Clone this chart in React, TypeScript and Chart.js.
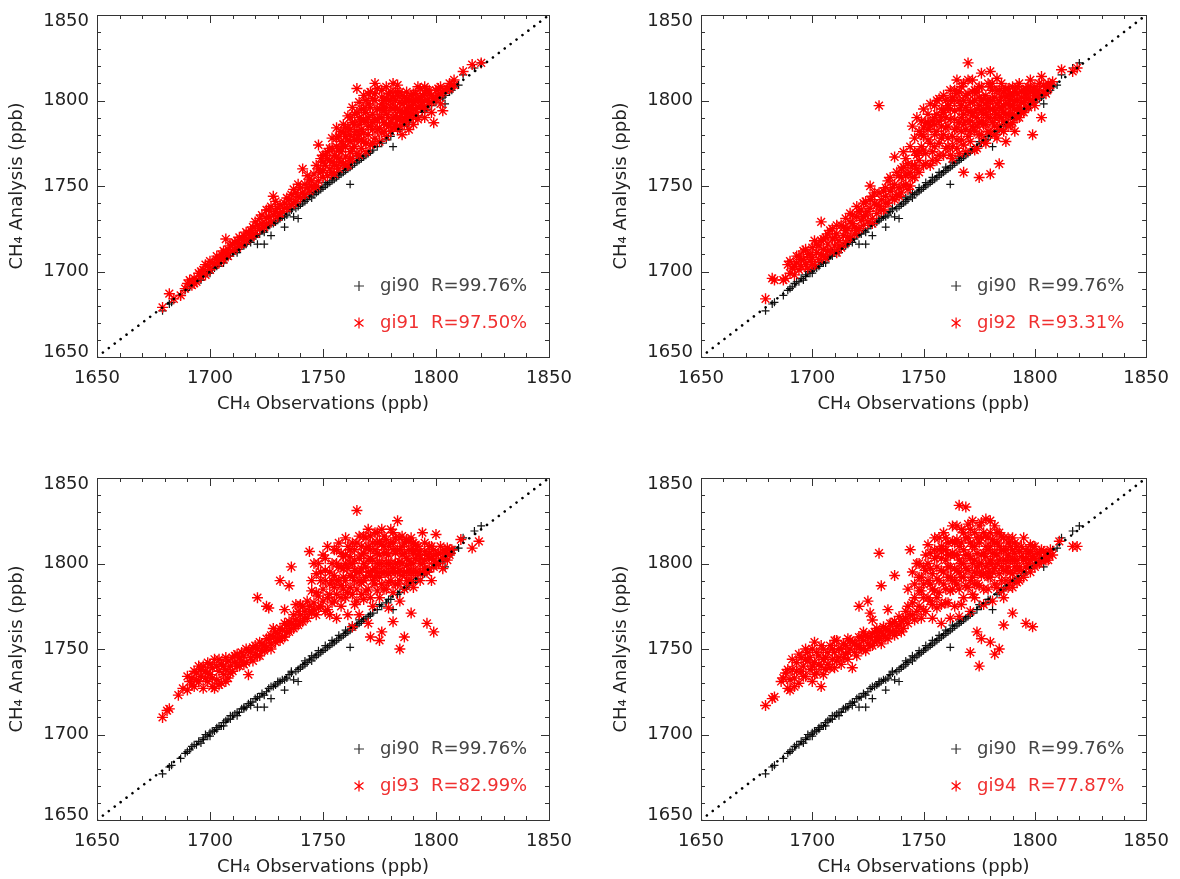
import React, { useEffect, useRef } from "react";
import { Chart, registerables } from "chart.js";
Chart.register(...registerables);

const AXIS_RANGE = [1650, 1850];
const MAJOR_TICKS = [1650, 1700, 1750, 1800, 1850];
const MINOR_STEP = 10;
const X_TITLE = "CH₄ Observations (ppb)";
const Y_TITLE = "CH₄ Analysis (ppb)";
const REF_NAME = "gi90";
const REF_R = "R=99.76%";
const EXP_NAMES = ["gi91", "gi92", "gi93", "gi94"];
const EXP_R = ["R=97.50%", "R=93.31%", "R=82.99%", "R=77.87%"];

// [observation, analysis] pairs, ppb
const gi90: number[][] = [
  [1679,1677],[1682,1681],[1683,1682],[1687,1686],[1689,1689],[1691,1691],[1692,1693],[1694,1694],[1695,1696],[1696,1695],
  [1697,1698],[1698,1700],[1699,1699],[1700,1701],[1701,1702],[1702,1702],[1703,1704],[1704,1705],[1705,1705],[1706,1707],
  [1707,1708],[1708,1709],[1709,1709],[1710,1711],[1711,1712],[1712,1713],[1713,1713],[1714,1715],[1715,1716],[1716,1716],
  [1717,1718],[1718,1719],[1719,1719],[1720,1721],[1721,1716],[1722,1722],[1723,1724],[1724,1716],[1725,1725],[1726,1727],
  [1727,1721],[1728,1728],[1729,1729],[1730,1730],[1731,1731],[1732,1732],[1733,1726],[1734,1733],[1735,1735],[1736,1736],
  [1737,1732],[1738,1737],[1739,1731],[1740,1739],[1741,1740],[1742,1741],[1743,1742],[1744,1744],[1745,1743],[1746,1745],
  [1747,1746],[1748,1747],[1749,1748],[1750,1749],[1751,1750],[1752,1751],[1753,1752],[1754,1753],[1755,1754],[1756,1755],
  [1757,1756],[1758,1757],[1759,1758],[1760,1759],[1761,1760],[1762,1751],[1762,1761],[1763,1762],[1764,1763],[1765,1764],
  [1766,1765],[1767,1766],[1768,1767],[1769,1768],[1770,1769],[1772,1771],[1774,1773],[1776,1775],[1778,1777],[1780,1779],
  [1781,1773],[1784,1783],[1786,1785],[1788,1787],[1790,1789],[1792,1791],[1794,1793],[1796,1795],[1798,1797],[1800,1799],
  [1802,1801],[1804,1798],[1804,1803],[1806,1805],[1808,1808],[1810,1809],[1812,1815],[1817,1819],[1820,1822],
  [1690,1690],[1693,1694],[1697,1697],[1700,1699],[1703,1703],[1706,1705],[1709,1711],[1712,1711],[1715,1715],[1718,1717],
  [1721,1722],[1724,1723],[1727,1728],[1730,1731],[1733,1732],[1736,1737],[1739,1738],[1742,1743],[1745,1746],[1748,1749],
  [1751,1752],[1754,1755],[1757,1758],[1760,1761],[1763,1764],[1766,1767],[1771,1770],[1775,1776],[1779,1779],[1783,1782],
  [1787,1786],[1791,1790],[1795,1794],[1799,1800],[1803,1802],[1807,1806]
];

const gi91: number[][] = [
  [1679,1679],[1682,1687],[1684,1684],[1687,1686],[1689,1690],[1690,1693],[1692,1692],[1693,1696],[1694,1694],[1695,1699],
  [1696,1697],[1697,1701],[1698,1698],[1699,1703],[1700,1701],[1700,1706],[1702,1704],[1703,1707],[1704,1705],[1705,1710],
  [1706,1707],[1707,1719],[1707,1711],[1708,1709],[1709,1715],[1710,1712],[1711,1717],[1712,1714],[1713,1720],[1714,1716],
  [1715,1719],[1716,1718],[1717,1722],[1718,1720],[1719,1726],[1720,1722],[1720,1729],[1722,1725],[1723,1728],[1724,1726],
  [1725,1736],[1725,1731],[1726,1736],[1727,1729],[1728,1744],[1728,1733],[1730,1732],[1730,1737],[1732,1735],[1733,1740],
  [1734,1737],[1735,1742],[1736,1739],[1737,1748],[1738,1741],[1739,1744],[1740,1743],[1740,1749],[1741,1760],[1742,1745],
  [1742,1751],[1744,1747],[1744,1754],[1745,1750],[1746,1757],[1747,1750],[1747,1762],[1748,1774],[1748,1753],[1749,1758],
  [1750,1755],[1750,1764],[1751,1768],[1752,1756],[1753,1760],[1753,1772],[1754,1764],[1755,1757],[1755,1768],[1756,1784],
  [1756,1762],[1756,1773],[1757,1760],[1757,1766],[1757,1779],[1758,1770],[1758,1776],[1759,1763],[1759,1786],[1760,1767],
  [1760,1773],[1760,1779],[1761,1762],[1761,1791],[1762,1770],[1762,1776],[1762,1783],[1763,1766],[1763,1796],[1764,1773],
  [1764,1780],[1764,1786],[1765,1807],[1765,1769],[1765,1777],[1766,1790],[1766,1799],[1767,1772],[1767,1783],[1768,1776],
  [1768,1795],[1768,1803],[1769,1770],[1769,1788],[1770,1780],[1770,1798],[1771,1785],[1771,1805],[1772,1775],[1772,1792],
  [1773,1810],[1773,1800],[1774,1783],[1774,1789],[1775,1776],[1775,1795],[1776,1806],[1776,1781],[1777,1787],[1777,1800],
  [1778,1779],[1778,1792],[1778,1808],[1779,1785],[1779,1804],[1780,1796],[1780,1782],[1781,1810],[1781,1790],[1782,1786],
  [1782,1800],[1783,1784],[1783,1795],[1783,1809],[1784,1790],[1784,1805],[1785,1788],[1785,1798],[1786,1793],[1786,1786],
  [1787,1801],[1788,1790],[1788,1796],[1789,1803],[1790,1792],[1790,1799],[1791,1795],[1792,1808],[1792,1801],[1793,1797],
  [1793,1807],[1794,1795],[1794,1803],[1795,1800],[1796,1806],[1797,1799],[1798,1803],[1799,1801],[1799,1787],[1800,1806],
  [1801,1803],[1802,1808],[1803,1805],[1803,1794],[1805,1807],[1806,1810],[1807,1809],[1808,1812],[1812,1817],[1816,1821],
  [1820,1822],
  [1691,1695],[1693,1693],[1696,1700],[1698,1704],[1701,1705],[1703,1709],[1705,1708],[1706,1712],[1708,1713],[1710,1716],
  [1712,1718],[1713,1716],[1715,1721],[1716,1723],[1718,1724],[1719,1722],[1721,1727],[1722,1731],[1723,1733],[1725,1728],
  [1726,1732],[1727,1738],[1729,1735],[1729,1741],[1731,1739],[1731,1734],[1733,1737],[1734,1743],[1736,1745],[1737,1740],
  [1738,1746],[1739,1751],[1741,1746],[1743,1749],[1743,1756],[1745,1753],[1746,1749],[1748,1760],[1749,1766],[1750,1759],
  [1751,1762],[1752,1770],[1753,1765],[1754,1758],[1754,1778],[1755,1762],[1756,1767],[1757,1771],[1758,1764],[1758,1782],
  [1759,1774],[1760,1762],[1761,1777],[1761,1784],[1762,1766],[1762,1790],[1763,1772],[1763,1787],[1764,1777],[1765,1782],
  [1765,1793],[1766,1768],[1766,1786],[1767,1777],[1767,1795],[1768,1781],[1768,1789],[1769,1793],[1769,1775],[1770,1785],
  [1770,1804],[1771,1774],[1771,1796],[1772,1783],[1772,1801],[1773,1789],[1773,1778],[1774,1795],[1774,1807],[1775,1784],
  [1776,1790],[1776,1798],[1777,1782],[1777,1794],[1778,1786],[1778,1801],[1779,1790],[1780,1787],[1780,1805],[1781,1784],
  [1781,1795],[1782,1791],[1782,1805],[1783,1789],[1784,1785],[1784,1799],[1785,1793],[1785,1803],[1786,1790],[1786,1799],
  [1787,1788],[1787,1795],[1788,1800],[1789,1792],[1789,1797],[1790,1795],[1790,1804],[1791,1791],[1791,1800],[1792,1796],
  [1793,1802],[1794,1799],[1795,1796],[1795,1804],[1796,1800],[1797,1804],[1798,1799],[1800,1802],[1801,1807],[1802,1804],
  [1804,1806],[1806,1807],[1808,1809],
  [1758,1772],[1760,1784],[1762,1780],[1764,1792],[1766,1780],[1767,1788],[1769,1800],[1770,1790],[1772,1787],[1773,1804],
  [1775,1790],[1776,1802],[1777,1796],[1778,1796],[1779,1800],[1780,1800],[1781,1802],[1782,1796],[1783,1803],[1784,1794],
  [1786,1802],[1787,1805],[1788,1793],[1789,1800],[1791,1804],[1793,1800],[1795,1808],[1797,1806],[1785,1780],[1790,1786],
  [1795,1790],[1798,1793],[1802,1798],[1788,1783],[1792,1789],[1756,1778],[1759,1781],[1754,1772],[1752,1766],[1750,1768]
];

const gi92: number[][] = [
  [1679,1684],[1682,1696],[1683,1695],[1687,1695],[1688,1696],[1689,1704],[1690,1699],[1691,1702],[1692,1698],[1693,1705],
  [1694,1701],[1694,1709],[1695,1703],[1696,1707],[1696,1712],[1697,1704],[1698,1710],[1698,1702],[1699,1706],[1700,1714],
  [1700,1708],[1701,1704],[1701,1718],[1702,1711],[1703,1707],[1703,1715],[1704,1729],[1704,1710],[1705,1719],[1705,1713],
  [1706,1708],[1707,1716],[1707,1722],[1708,1712],[1709,1719],[1709,1725],[1710,1715],[1711,1722],[1711,1711],[1712,1718],
  [1713,1727],[1713,1714],[1714,1721],[1715,1731],[1715,1717],[1716,1725],[1717,1734],[1717,1720],[1718,1728],[1719,1722],
  [1720,1732],[1720,1738],[1721,1725],[1722,1730],[1722,1736],[1723,1727],[1724,1741],[1724,1733],[1725,1729],[1726,1750],
  [1726,1737],[1727,1731],[1727,1744],[1728,1740],[1729,1734],[1730,1797],[1730,1746],[1730,1738],[1731,1742],[1732,1736],
  [1733,1749],[1733,1744],[1734,1740],[1735,1755],[1735,1747],[1736,1743],[1737,1767],[1737,1751],[1738,1745],[1738,1758],
  [1739,1749],[1740,1755],[1740,1746],[1741,1761],[1742,1751],[1742,1766],[1743,1757],[1744,1750],[1744,1773],[1745,1762],
  [1745,1785],[1746,1755],[1746,1778],[1747,1768],[1748,1758],[1748,1782],[1749,1773],[1749,1788],[1750,1762],[1750,1779],
  [1751,1787],[1751,1769],[1752,1783],[1752,1792],[1753,1762],[1753,1775],[1754,1788],[1754,1770],[1755,1797],[1755,1780],
  [1756,1765],[1756,1792],[1757,1801],[1757,1775],[1758,1785],[1758,1795],[1759,1768],[1759,1780],[1760,1790],[1760,1800],
  [1761,1773],[1761,1785],[1762,1795],[1762,1806],[1763,1766],[1763,1779],[1764,1789],[1764,1800],[1765,1812],[1765,1772],
  [1765,1784],[1766,1795],[1766,1805],[1767,1777],[1767,1790],[1768,1758],[1768,1800],[1768,1810],[1769,1770],[1769,1783],
  [1770,1822],[1770,1794],[1770,1804],[1771,1776],[1771,1788],[1772,1799],[1772,1812],[1773,1782],[1773,1793],[1774,1805],
  [1774,1772],[1775,1755],[1775,1787],[1775,1797],[1776,1816],[1776,1780],[1776,1808],[1777,1792],[1777,1801],[1778,1775],
  [1778,1786],[1779,1796],[1779,1810],[1780,1817],[1780,1781],[1780,1790],[1780,1757],[1781,1800],[1781,1806],[1782,1785],
  [1782,1794],[1783,1813],[1783,1778],[1784,1763],[1784,1790],[1784,1800],[1785,1783],[1785,1795],[1786,1805],[1786,1788],
  [1787,1798],[1787,1776],[1788,1792],[1788,1803],[1789,1786],[1789,1797],[1790,1808],[1790,1792],[1791,1782],[1791,1800],
  [1792,1795],[1792,1804],[1793,1810],[1793,1790],[1794,1799],[1795,1793],[1795,1806],[1796,1802],[1797,1796],[1797,1808],
  [1798,1812],[1798,1800],[1799,1780],[1799,1805],[1800,1797],[1800,1808],[1801,1802],[1802,1810],[1803,1790],[1803,1814],
  [1804,1805],[1805,1808],[1806,1810],[1807,1809],[1808,1811],[1812,1818],[1817,1817],[1819,1819],
  [1690,1706],[1692,1703],[1693,1709],[1695,1707],[1697,1713],[1699,1710],[1700,1704],[1702,1716],[1704,1718],[1705,1709],
  [1706,1720],[1707,1712],[1708,1724],[1710,1720],[1711,1727],[1712,1715],[1714,1726],[1715,1724],[1716,1720],[1717,1729],
  [1718,1733],[1719,1726],[1720,1724],[1721,1735],[1723,1732],[1723,1740],[1725,1735],[1726,1742],[1727,1728],[1728,1746],
  [1729,1739],[1731,1736],[1732,1747],[1733,1740],[1734,1753],[1736,1749],[1737,1742],[1739,1756],[1739,1744],[1741,1750],
  [1741,1770],[1743,1763],[1743,1748],[1745,1755],[1746,1770],[1747,1760],[1747,1790],[1748,1765],[1749,1780],[1750,1771],
  [1750,1795],[1751,1763],[1752,1777],[1753,1785],[1753,1798],[1754,1765],[1755,1773],[1755,1790],[1756,1782],[1756,1800],
  [1757,1768],[1757,1788],[1758,1778],[1759,1793],[1759,1803],[1760,1772],[1760,1784],[1761,1797],[1761,1778],[1762,1768],
  [1762,1789],[1763,1802],[1763,1773],[1764,1783],[1764,1794],[1765,1777],[1765,1804],[1766,1787],[1766,1769],[1767,1782],
  [1767,1797],[1767,1808],[1768,1774],[1768,1792],[1769,1788],[1769,1803],[1770,1779],[1770,1812],[1771,1799],[1771,1782],
  [1772,1791],[1772,1805],[1773,1771],[1773,1800],[1774,1785],[1774,1795],[1775,1780],[1775,1808],[1776,1788],[1776,1800],
  [1777,1776],[1777,1795],[1778,1792],[1778,1803],[1779,1782],[1779,1800],[1780,1795],[1780,1808],[1781,1787],[1781,1795],
  [1782,1780],[1782,1802],[1783,1792],[1783,1806],[1784,1785],[1784,1796],[1785,1790],[1785,1802],[1786,1782],[1786,1797],
  [1787,1792],[1787,1807],[1788,1785],[1788,1798],[1789,1791],[1789,1804],[1790,1787],[1790,1797],[1791,1795],[1791,1805],
  [1792,1790],[1792,1800],[1793,1796],[1794,1793],[1794,1805],[1795,1799],[1796,1796],[1796,1807],[1797,1801],[1798,1805],
  [1799,1800],[1800,1803],[1801,1806],[1802,1804],[1804,1809],[1805,1804],[1806,1807],
  [1755,1786],[1758,1790],[1760,1795],[1762,1800],[1764,1806],[1766,1800],[1768,1786],[1769,1796],[1771,1793],[1772,1785],
  [1773,1806],[1774,1790],[1775,1802],[1776,1794],[1777,1786],[1778,1798],[1779,1790],[1780,1800],[1781,1810],[1782,1790],
  [1783,1798],[1784,1806],[1785,1810],[1786,1793],[1787,1802],[1788,1807],[1789,1800],[1790,1803],[1792,1808],[1794,1802],
  [1796,1804],[1798,1808],[1800,1806],[1752,1787],[1750,1784],[1748,1770],[1746,1762],[1744,1758],[1742,1756],[1740,1760]
];

const gi93: number[][] = [
  [1679,1710],[1681,1714],[1682,1715],[1686,1723],[1688,1727],[1690,1726],[1691,1731],[1692,1733],[1693,1728],[1694,1736],
  [1695,1740],[1695,1731],[1696,1734],[1697,1740],[1697,1727],[1698,1737],[1699,1742],[1699,1731],[1700,1735],[1701,1739],
  [1701,1728],[1702,1744],[1702,1727],[1703,1732],[1704,1737],[1705,1741],[1705,1730],[1706,1735],[1707,1738],[1708,1743],
  [1708,1733],[1709,1740],[1710,1745],[1710,1737],[1711,1742],[1712,1747],[1713,1740],[1714,1748],[1714,1743],[1715,1746],
  [1716,1742],[1717,1735],[1717,1749],[1718,1745],[1719,1751],[1720,1747],[1721,1780],[1721,1750],[1722,1746],[1723,1753],
  [1724,1749],[1725,1775],[1725,1751],[1726,1756],[1726,1774],[1727,1753],[1728,1762],[1728,1757],[1729,1754],[1730,1759],
  [1731,1790],[1731,1755],[1732,1761],[1733,1773],[1733,1757],[1734,1764],[1735,1787],[1735,1760],[1736,1798],[1736,1765],
  [1737,1762],[1738,1776],[1738,1767],[1739,1764],[1740,1770],[1740,1776],[1741,1766],[1742,1772],[1743,1768],[1744,1807],
  [1744,1775],[1745,1771],[1745,1784],[1746,1777],[1747,1794],[1747,1770],[1748,1781],[1748,1800],[1749,1775],[1749,1790],
  [1750,1785],[1750,1805],[1751,1772],[1751,1796],[1752,1780],[1752,1810],[1753,1788],[1753,1770],[1754,1800],[1754,1777],
  [1755,1793],[1755,1808],[1756,1782],[1756,1768],[1757,1798],[1757,1812],[1758,1787],[1758,1775],[1759,1804],[1759,1792],
  [1760,1780],[1760,1815],[1761,1797],[1761,1770],[1762,1786],[1762,1808],[1763,1763],[1763,1792],[1764,1802],[1764,1776],
  [1765,1831],[1765,1785],[1765,1812],[1766,1795],[1766,1770],[1767,1805],[1767,1789],[1768,1816],[1768,1779],[1769,1798],
  [1769,1809],[1770,1785],[1770,1820],[1770,1765],[1771,1757],[1771,1793],[1771,1803],[1772,1812],[1772,1775],[1773,1797],
  [1773,1788],[1774,1818],[1774,1806],[1775,1755],[1775,1780],[1775,1792],[1776,1760],[1776,1811],[1776,1800],[1777,1785],
  [1777,1816],[1778,1795],[1778,1806],[1779,1774],[1779,1789],[1780,1812],[1780,1800],[1781,1766],[1781,1783],[1781,1818],
  [1782,1795],[1782,1806],[1783,1825],[1783,1788],[1784,1750],[1784,1801],[1784,1778],[1785,1810],[1785,1793],[1786,1757],
  [1786,1785],[1787,1803],[1787,1814],[1788,1796],[1788,1790],[1789,1808],[1789,1771],[1790,1800],[1790,1786],[1791,1811],
  [1792,1795],[1792,1805],[1793,1790],[1794,1818],[1794,1800],[1795,1807],[1796,1765],[1796,1795],[1797,1803],[1798,1790],
  [1798,1810],[1799,1798],[1799,1760],[1800,1817],[1800,1805],[1801,1800],[1802,1806],[1803,1797],[1804,1808],[1805,1802],
  [1806,1805],[1807,1808],[1811,1814],[1816,1809],[1819,1813],
  [1690,1734],[1692,1729],[1693,1737],[1694,1732],[1696,1738],[1698,1733],[1699,1736],[1700,1741],[1701,1733],[1703,1740],
  [1704,1729],[1704,1744],[1706,1740],[1707,1731],[1707,1745],[1709,1736],[1711,1746],[1712,1740],[1713,1745],[1715,1741],
  [1716,1750],[1718,1748],[1719,1743],[1720,1752],[1721,1746],[1722,1754],[1723,1749],[1724,1752],[1725,1756],[1727,1750],
  [1727,1758],[1729,1760],[1730,1756],[1731,1762],[1732,1757],[1733,1765],[1734,1760],[1735,1766],[1736,1762],[1737,1770],
  [1738,1764],[1739,1772],[1740,1766],[1741,1775],[1742,1768],[1743,1778],[1744,1772],[1745,1790],[1746,1773],[1746,1800],
  [1747,1783],[1748,1774],[1749,1795],[1750,1778],[1751,1790],[1751,1803],[1752,1773],[1753,1795],[1753,1782],[1754,1790],
  [1755,1786],[1755,1778],[1756,1800],[1756,1808],[1757,1790],[1758,1780],[1758,1806],[1759,1797],[1759,1785],[1760,1790],
  [1760,1805],[1761,1783],[1761,1810],[1762,1793],[1762,1800],[1763,1782],[1763,1812],[1764,1790],[1764,1808],[1765,1795],
  [1765,1778],[1766,1803],[1766,1816],[1767,1782],[1767,1797],[1768,1790],[1768,1806],[1769,1784],[1769,1815],[1770,1795],
  [1770,1810],[1771,1780],[1771,1816],[1772,1790],[1772,1802],[1773,1818],[1773,1808],[1774,1784],[1774,1795],[1775,1800],
  [1775,1813],[1776,1788],[1776,1820],[1777,1795],[1777,1806],[1778,1785],[1778,1814],[1779,1800],[1779,1810],[1780,1790],
  [1780,1820],[1781,1797],[1781,1808],[1782,1788],[1782,1815],[1783,1800],[1783,1795],[1784,1808],[1784,1790],[1785,1800],
  [1785,1816],[1786,1795],[1786,1806],[1787,1790],[1787,1799],[1788,1808],[1788,1813],[1789,1795],[1789,1800],[1790,1806],
  [1790,1812],[1791,1795],[1791,1803],[1792,1810],[1793,1800],[1793,1807],[1794,1795],[1795,1802],[1795,1812],[1796,1805],
  [1797,1797],[1797,1810],[1798,1803],[1799,1808],[1800,1800],[1801,1806],[1802,1810],[1803,1803],[1804,1806],[1805,1809],
  [1806,1808],
  [1756,1790],[1758,1798],[1760,1800],[1762,1804],[1764,1796],[1766,1790],[1767,1810],[1768,1800],[1770,1802],[1771,1808],
  [1772,1796],[1773,1792],[1774,1812],[1775,1805],[1776,1795],[1777,1810],[1778,1800],[1779,1805],[1780,1795],[1781,1812],
  [1782,1800],[1783,1808],[1784,1796],[1785,1805],[1786,1812],[1787,1795],[1788,1802],[1789,1790],[1790,1795],[1791,1808],
  [1793,1803],[1795,1797],[1797,1806],[1799,1802],[1769,1792],[1774,1800],[1779,1794],[1784,1815],[1789,1815],[1763,1800]
];

const gi94: number[][] = [
  [1679,1717],[1682,1721],[1683,1722],[1686,1731],[1688,1736],[1689,1727],[1690,1726],[1691,1738],[1692,1733],[1693,1742],
  [1694,1730],[1695,1745],[1695,1737],[1696,1740],[1697,1734],[1698,1743],[1698,1748],[1699,1738],[1700,1750],[1700,1731],
  [1701,1754],[1701,1742],[1702,1736],[1703,1746],[1704,1728],[1704,1740],[1705,1750],[1706,1738],[1706,1745],[1707,1741],
  [1708,1752],[1709,1744],[1710,1748],[1710,1739],[1711,1755],[1712,1745],[1713,1750],[1713,1741],[1714,1753],[1715,1747],
  [1716,1744],[1716,1756],[1717,1750],[1718,1739],[1718,1754],[1719,1748],[1720,1752],[1721,1775],[1721,1757],[1722,1750],
  [1723,1755],[1724,1758],[1724,1749],[1725,1778],[1725,1753],[1726,1771],[1726,1757],[1727,1767],[1727,1752],[1728,1760],
  [1729,1755],[1729,1757],[1730,1806],[1730,1760],[1731,1787],[1731,1753],[1732,1758],[1733,1762],[1734,1773],[1734,1756],
  [1735,1760],[1736,1765],[1737,1793],[1737,1758],[1738,1763],[1739,1764],[1739,1769],[1740,1760],[1741,1767],[1742,1772],
  [1743,1785],[1743,1765],[1744,1808],[1744,1770],[1745,1795],[1745,1777],[1746,1767],[1746,1788],[1747,1800],[1748,1775],
  [1748,1792],[1749,1784],[1749,1768],[1750,1798],[1750,1780],[1751,1805],[1751,1772],[1752,1790],[1752,1811],[1753,1778],
  [1753,1797],[1754,1785],[1754,1768],[1755,1803],[1755,1815],[1756,1791],[1756,1774],[1757,1808],[1757,1783],[1758,1796],
  [1758,1765],[1759,1818],[1759,1788],[1760,1777],[1760,1802],[1761,1812],[1761,1792],[1762,1768],[1762,1784],[1763,1806],
  [1763,1822],[1764,1797],[1764,1775],[1765,1788],[1765,1814],[1766,1834],[1766,1802],[1766,1769],[1767,1792],[1767,1820],
  [1768,1780],[1768,1808],[1769,1833],[1769,1797],[1770,1786],[1770,1815],[1771,1748],[1771,1803],[1771,1772],[1772,1825],
  [1772,1792],[1773,1810],[1773,1780],[1774,1760],[1774,1798],[1775,1822],[1775,1787],[1775,1740],[1776,1756],[1776,1805],
  [1776,1815],[1777,1776],[1777,1794],[1778,1826],[1778,1810],[1779,1785],[1779,1800],[1780,1754],[1780,1818],[1780,1792],
  [1781,1778],[1781,1806],[1782,1747],[1782,1822],[1782,1797],[1783,1786],[1783,1812],[1784,1750],[1784,1802],[1785,1790],
  [1785,1816],[1786,1764],[1786,1780],[1786,1808],[1787,1796],[1788,1812],[1788,1786],[1789,1802],[1790,1771],[1790,1794],
  [1790,1815],[1791,1806],[1792,1789],[1792,1810],[1793,1798],[1794,1804],[1795,1815],[1795,1792],[1796,1765],[1796,1808],
  [1797,1800],[1798,1795],[1798,1811],[1799,1763],[1799,1804],[1800,1810],[1800,1798],[1801,1806],[1802,1800],[1803,1808],
  [1804,1803],[1805,1806],[1806,1802],[1807,1808],[1808,1805],[1811,1813],[1817,1810],[1819,1810],
  [1687,1733],[1689,1738],[1690,1732],[1691,1744],[1692,1728],[1693,1737],[1694,1747],[1696,1734],[1697,1744],[1697,1750],
  [1699,1745],[1700,1740],[1701,1735],[1702,1748],[1703,1741],[1704,1752],[1705,1735],[1705,1744],[1707,1748],[1708,1739],
  [1709,1750],[1710,1755],[1711,1743],[1712,1750],[1714,1745],[1715,1752],[1716,1748],[1717,1755],[1719,1753],[1720,1746],
  [1721,1752],[1722,1757],[1723,1750],[1723,1760],[1725,1757],[1726,1752],[1727,1759],[1728,1754],[1729,1762],[1730,1756],
  [1731,1760],[1732,1763],[1733,1757],[1734,1761],[1735,1765],[1736,1760],[1737,1766],[1738,1760],[1740,1766],[1741,1762],
  [1742,1768],[1743,1775],[1745,1770],[1746,1780],[1747,1772],[1748,1784],[1748,1800],[1749,1792],[1750,1773],[1750,1788],
  [1751,1796],[1752,1780],[1752,1800],[1753,1788],[1753,1806],[1754,1794],[1754,1776],[1755,1784],[1755,1808],[1756,1798],
  [1756,1780],[1757,1790],[1757,1815],[1758,1803],[1758,1776],[1759,1795],[1759,1808],[1760,1785],[1760,1815],[1761,1798],
  [1761,1777],[1762,1805],[1762,1792],[1763,1785],[1763,1813],[1764,1790],[1764,1805],[1765,1796],[1765,1822],[1766,1785],
  [1766,1810],[1767,1800],[1767,1776],[1768,1792],[1768,1818],[1769,1805],[1769,1787],[1770,1796],[1770,1823],[1771,1812],
  [1771,1790],[1772,1800],[1772,1782],[1773,1818],[1773,1795],[1774,1806],[1774,1788],[1775,1800],[1775,1812],[1776,1793],
  [1776,1824],[1777,1806],[1777,1785],[1778,1798],[1778,1816],[1779,1792],[1779,1808],[1780,1802],[1780,1825],[1781,1795],
  [1781,1814],[1782,1788],[1782,1806],[1783,1800],[1783,1818],[1784,1794],[1784,1810],[1785,1798],[1785,1784],[1786,1802],
  [1786,1815],[1787,1790],[1787,1808],[1788,1798],[1788,1805],[1789,1795],[1789,1810],[1790,1786],[1790,1802],[1791,1798],
  [1791,1812],[1792,1802],[1793,1807],[1793,1790],[1794,1796],[1795,1802],[1796,1798],[1797,1806],[1798,1802],[1799,1810],
  [1800,1803],[1801,1800],[1802,1806],[1803,1802],[1804,1807],[1805,1802],[1806,1805],
  [1756,1804],[1758,1810],[1760,1808],[1762,1798],[1763,1790],[1765,1805],[1766,1795],[1767,1812],[1768,1800],[1769,1815],
  [1770,1805],[1771,1820],[1772,1810],[1773,1802],[1774,1815],[1775,1795],[1776,1800],[1777,1818],[1778,1804],[1779,1815],
  [1780,1810],[1781,1800],[1782,1812],[1783,1805],[1784,1818],[1785,1808],[1786,1796],[1787,1802],[1788,1815],[1789,1790],
  [1790,1808],[1791,1802],[1792,1796],[1794,1810],[1796,1803],[1798,1807],[1764,1812],[1761,1805],[1773,1788],[1779,1795]
];

const EXP_DATA = [gi91, gi92, gi93, gi94];

const FONT = "'DejaVu Sans', sans-serif";
const RED = "#ff0000";
const INK = "#222222";
const FRAME = "#333333";

type Box = { left: number; top: number; w: number; h: number; L: number; R: number; T: number; B: number };

const BOXES: Box[] = [
  { left: 0, top: 0, w: 590, h: 440, L: 97, R: 549, T: 15, B: 357 },
  { left: 600, top: 0, w: 580, h: 440, L: 101, R: 553, T: 15, B: 357 },
  { left: 0, top: 440, w: 590, h: 439, L: 97, R: 549, T: 38, B: 380 },
  { left: 600, top: 440, w: 580, h: 439, L: 101, R: 553, T: 38, B: 380 },
];

function toPoints(arr: number[][]) {
  return arr.map(([x, y]) => ({ x, y }));
}

function Panel({ idx }: { idx: number }) {
  const ref = useRef<HTMLCanvasElement>(null);
  const box = BOXES[idx];
  useEffect(() => {
    if (!ref.current) return;
    const X_H = 60;
    const framePlugin = {
      id: "frameTicksLegend",
      afterDatasetsDraw(chart: any) {
        const { ctx, chartArea: a, scales } = chart;
        const xs = scales.x;
        const ys = scales.y;
        ctx.save();
        ctx.strokeStyle = FRAME;
        ctx.lineWidth = 1;
        ctx.strokeRect(Math.round(a.left) + 0.5, Math.round(a.top) + 0.5, Math.round(a.right - a.left), Math.round(a.bottom - a.top));
        ctx.beginPath();
        for (let v = AXIS_RANGE[0]; v <= AXIS_RANGE[1]; v += MINOR_STEP) {
          const len = MAJOR_TICKS.includes(v) ? 8 : 4;
          const px = Math.round(xs.getPixelForValue(v)) + 0.5;
          const py = Math.round(ys.getPixelForValue(v)) + 0.5;
          ctx.moveTo(px, a.bottom); ctx.lineTo(px, a.bottom - len);
          ctx.moveTo(px, a.top); ctx.lineTo(px, a.top + len);
          ctx.moveTo(a.left, py); ctx.lineTo(a.left + len, py);
          ctx.moveTo(a.right, py); ctx.lineTo(a.right - len, py);
        }
        ctx.stroke();
        ctx.font = `18px ${FONT}`;
        ctx.fillStyle = INK;
        ctx.textAlign = "right";
        ctx.textBaseline = "middle";
        MAJOR_TICKS.forEach((v, i) => {
          const off = i === 0 ? -5 : i === MAJOR_TICKS.length - 1 ? 6 : 0;
          ctx.fillText(String(v), a.left - 8, ys.getPixelForValue(v) + off);
        });
        const sx = a.right - 190;
        const tx = a.right - 169;
        const y1 = a.bottom - 71;
        const y2 = a.bottom - 34;
        ctx.lineWidth = 1.2;
        ctx.strokeStyle = "#333";
        ctx.beginPath();
        ctx.moveTo(sx - 5, y1); ctx.lineTo(sx + 5, y1);
        ctx.moveTo(sx, y1 - 5); ctx.lineTo(sx, y1 + 5);
        ctx.stroke();
        ctx.strokeStyle = RED;
        ctx.beginPath();
        ctx.moveTo(sx, y2 - 5.5); ctx.lineTo(sx, y2 + 5.5);
        ctx.moveTo(sx - 4.5, y2 - 3.5); ctx.lineTo(sx + 4.5, y2 + 3.5);
        ctx.moveTo(sx - 4.5, y2 + 3.5); ctx.lineTo(sx + 4.5, y2 - 3.5);
        ctx.stroke();
        ctx.textAlign = "left";
        ctx.fillStyle = "#444";
        ctx.fillText(REF_NAME, tx, y1);
        ctx.fillText(REF_R, tx + 51, y1);
        ctx.fillStyle = "#f03030";
        ctx.fillText(EXP_NAMES[idx], tx, y2);
        ctx.fillText(EXP_R[idx], tx + 51, y2);
        ctx.restore();
      },
    };
    const chart = new Chart(ref.current, {
      type: "scatter",
      data: {
        datasets: [
          {
            type: "line",
            data: [{ x: AXIS_RANGE[0], y: AXIS_RANGE[0] }, { x: AXIS_RANGE[1], y: AXIS_RANGE[1] }],
            borderColor: "#000",
            borderWidth: 2.6,
            borderDash: [0.01, 7.4],
            borderCapStyle: "round",
            pointRadius: 0,
            fill: false,
            order: 0,
          } as any,
          {
            data: toPoints(EXP_DATA[idx]),
            pointStyle: "star",
            pointRadius: 5.5,
            borderColor: RED,
            backgroundColor: RED,
            borderWidth: 1.4,
            order: 1,
          },
          {
            data: toPoints(gi90),
            pointStyle: "cross",
            pointRadius: 4,
            borderColor: "#111",
            backgroundColor: "#111",
            borderWidth: 1.2,
            order: 2,
          },
        ],
      },
      options: {
        animation: false,
        responsive: false,
        maintainAspectRatio: false,
        events: [],
        layout: { padding: { left: 0, top: box.T, right: box.w - box.R, bottom: box.h - (box.B + X_H) } },
        plugins: { legend: { display: false }, tooltip: { enabled: false } },
        scales: {
          x: {
            type: "linear",
            min: AXIS_RANGE[0],
            max: AXIS_RANGE[1],
            afterBuildTicks: (s: any) => { s.ticks = MAJOR_TICKS.map((v) => ({ value: v })); },
            afterFit: (s: any) => { s.height = X_H; },
            grid: { display: false, drawTicks: false },
            border: { display: false },
            ticks: {
              font: { family: FONT, size: 18 },
              color: INK,
              padding: 11,
              maxRotation: 0,
              autoSkip: false,
              callback: (v: any) => String(v),
            },
            title: { display: true, text: X_TITLE, font: { family: FONT, size: 18 }, color: INK, padding: { top: 0, bottom: 2 } },
          },
          y: {
            type: "linear",
            min: AXIS_RANGE[0],
            max: AXIS_RANGE[1],
            afterBuildTicks: (s: any) => { s.ticks = MAJOR_TICKS.map((v) => ({ value: v })); },
            afterFit: (s: any) => { s.width = box.L; },
            grid: { display: false, drawTicks: false },
            border: { display: false },
            ticks: { display: false },
            title: { display: true, text: Y_TITLE, font: { family: FONT, size: 18 }, color: INK, padding: { top: box.L - 80 - 10.8, bottom: 0 } },
          },
        },
      } as any,
      plugins: [framePlugin],
    });
    return () => chart.destroy();
  }, [idx]);
  return (
    <canvas
      ref={ref}
      width={box.w}
      height={box.h}
      style={{ position: "absolute", left: box.left, top: box.top, width: box.w, height: box.h }}
    />
  );
}

export default function App() {
  return (
    <div style={{ position: "absolute", left: 0, top: 0, width: 1180, height: 879, overflow: "hidden", background: "#fff" }}>
      {[0, 1, 2, 3].map((i) => (
        <Panel key={i} idx={i} />
      ))}
    </div>
  );
}
